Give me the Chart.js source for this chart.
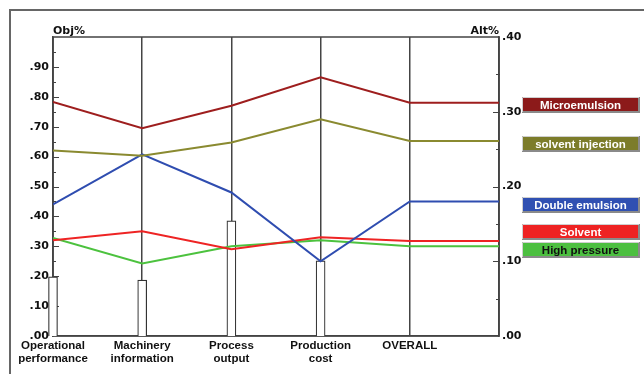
<!DOCTYPE html>
<html>
<head>
<meta charset="utf-8">
<script src="https://cdn.jsdelivr.net/npm/chart.js@4/dist/chart.umd.min.js"></script>
<style>
  html, body { margin: 0; padding: 0; background: #fff; }
  #wrap { width: 644px; height: 374px; }
</style>
</head>
<body>
<div id="wrap"><canvas id="chart" width="644" height="374"></canvas></div>
<script>
// criteria along the bottom, last one is the overall result
const categories = [['Operational', 'performance'], ['Machinery', 'information'], ['Process', 'output'], ['Production', 'cost'], 'OVERALL'];

// criterion weights (Obj%, left axis) - drawn as the thin bars
const objWeights = [0.198, 0.187, 0.385, 0.251];

// alternative priorities (Alt%, right axis) for each criterion + overall
const altNames = ['Microemulsion', 'solvent injection', 'Double emulsion', 'Solvent', 'High pressure'];
const microemulsion = [0.313, 0.278, 0.308, 0.346, 0.312];
const solventInjection = [0.248, 0.241, 0.259, 0.290, 0.261];
const doubleEmulsion = [0.176, 0.243, 0.192, 0.100, 0.180];
const solvent = [0.128, 0.140, 0.116, 0.132, 0.127];
const highPressure = [0.131, 0.097, 0.120, 0.128, 0.120];

const altSeries = [microemulsion, solventInjection, doubleEmulsion, solvent, highPressure];
const lineColors = ['#9e1e1e', '#8a8a30', '#2f4db0', '#ee2424', '#4cc23e'];
const boxColors = ['#8c1a1a', '#7c7c2a', '#3050b2', '#ee2222', '#4cbf40'];
const boxText = ['#fff', '#fff', '#fff', '#fff', '#111'];

const tickFont = { family: 'DejaVu Sans', weight: 'bold', size: 11 };
const labelFont = { family: 'Liberation Sans', weight: 'bold', size: 11.5, lineHeight: 1.15 };

function fmt(v) {
  return '.' + Math.round(v * 100).toString().padStart(2, '0');
}

// alternatives run flat from OVERALL out to the right axis
function toPoints(arr) {
  const pts = arr.map((v, i) => ({ x: i, y: v }));
  pts.push({ x: arr.length, y: arr[arr.length - 1] });
  return pts;
}

const decor = {
  id: 'decor',
  beforeDraw(chart) {
    const ctx = chart.ctx;
    ctx.save();
    ctx.strokeStyle = '#666';
    ctx.lineWidth = 2;
    ctx.beginPath();
    ctx.moveTo(10, 374);
    ctx.lineTo(10, 10);
    ctx.lineTo(644, 10);
    ctx.stroke();
    ctx.restore();
  },
  beforeDatasetsDraw(chart) {
    const ctx = chart.ctx;
    const a = chart.chartArea;
    const y = chart.scales.y;
    const y2 = chart.scales.y2;
    ctx.save();
    ctx.strokeStyle = '#444';
    ctx.lineWidth = 1.5;
    ctx.strokeRect(a.left, a.top, a.right - a.left, a.bottom - a.top);

    // major / minor ticks, inside the plot
    ctx.lineWidth = 1.2;
    ctx.beginPath();
    for (let k = 1; k < 20; k++) {
      const py = Math.round(y.getPixelForValue(k * 0.05)) + 0.5;
      ctx.moveTo(a.left - 1, py);
      ctx.lineTo(a.left + (k % 2 ? 3 : 6), py);
    }
    for (let k = 1; k < 8; k++) {
      const py = Math.round(y2.getPixelForValue(k * 0.05)) + 0.5;
      ctx.moveTo(a.right + 1, py);
      ctx.lineTo(a.right - (k % 2 ? 3 : 6), py);
    }
    ctx.stroke();
    ctx.restore();
  },
  afterDraw(chart) {
    const ctx = chart.ctx;
    const a = chart.chartArea;
    ctx.save();
    ctx.fillStyle = '#111';
    ctx.font = 'bold 11px "DejaVu Sans"';
    ctx.textBaseline = 'alphabetic';
    ctx.textAlign = 'left';
    ctx.fillText('Obj%', a.left, a.top - 3);
    ctx.textAlign = 'right';
    ctx.fillText('Alt%', a.right, a.top - 3);

    // legend boxes beside the right axis
    const tops = [97, 136, 197, 224, 242];
    const bx = 522, bw = 117, bh = 15;
    ctx.font = 'bold 11.5px "Liberation Sans"';
    ctx.textAlign = 'center';
    ctx.textBaseline = 'middle';
    altNames.forEach((name, i) => {
      const by = tops[i];
      ctx.fillStyle = boxColors[i];
      ctx.fillRect(bx, by, bw, bh);
      ctx.strokeStyle = '#8a8a8a';
      ctx.lineWidth = 2;
      ctx.beginPath();
      ctx.moveTo(bx, by + bh);
      ctx.lineTo(bx + bw, by + bh);
      ctx.lineTo(bx + bw, by);
      ctx.stroke();
      ctx.strokeStyle = '#cfcfcf';
      ctx.lineWidth = 1;
      ctx.beginPath();
      ctx.moveTo(bx + 0.5, by + bh);
      ctx.lineTo(bx + 0.5, by + 0.5);
      ctx.lineTo(bx + bw, by + 0.5);
      ctx.stroke();
      ctx.fillStyle = boxText[i];
      ctx.fillText(name, bx + bw / 2, by + bh / 2 + 1);
    });
    ctx.restore();
  }
};

const datasets = altSeries.map((s, i) => ({
  type: 'line',
  label: altNames[i],
  data: toPoints(s),
  yAxisID: 'y2',
  borderColor: lineColors[i],
  borderWidth: 2,
  pointRadius: 0,
  tension: 0,
  order: 1
}));

datasets.push({
  type: 'bar',
  label: 'Obj%',
  data: objWeights.map((v, i) => ({ x: i, y: v })),
  yAxisID: 'y',
  backgroundColor: '#fff',
  borderColor: '#333',
  borderWidth: 1.2,
  barThickness: 9,
  clip: false,
  order: 10
});

new Chart(document.getElementById('chart'), {
  type: 'line',
  data: { datasets },
  options: {
    responsive: false,
    animation: false,
    layout: { padding: { top: 37, left: 0, right: 0, bottom: 0 } },
    plugins: { legend: { display: false }, tooltip: { enabled: false } },
    scales: {
      x: {
        type: 'linear',
        min: 0,
        max: 5,
        offset: false,
        afterFit: s => { s.height = 38; },
        border: { color: '#444', width: 1.5 },
        grid: { color: '#444', lineWidth: 1.5, drawTicks: false, offset: false },
        ticks: {
          stepSize: 1,
          padding: 3,
          color: '#111',
          font: labelFont,
          maxRotation: 0,
          autoSkip: false,
          callback: v => categories[v] ?? ''
        }
      },
      y: {
        position: 'left',
        min: 0,
        max: 1,
        afterFit: s => { s.width = 53; },
        border: { color: '#444', width: 1.5 },
        grid: { display: false, drawTicks: false },
        ticks: {
          stepSize: 0.1,
          padding: 4,
          color: '#111',
          font: tickFont,
          callback: v => (v >= 0.999 ? '' : fmt(v))
        }
      },
      y2: {
        position: 'right',
        min: 0,
        max: 0.4,
        afterFit: s => { s.width = 145; },
        border: { color: '#444', width: 1.5 },
        grid: { display: false, drawTicks: false },
        ticks: {
          stepSize: 0.1,
          padding: 3,
          color: '#111',
          font: tickFont,
          callback: v => fmt(v)
        }
      }
    }
  },
  plugins: [decor]
});
</script>
</body>
</html>
